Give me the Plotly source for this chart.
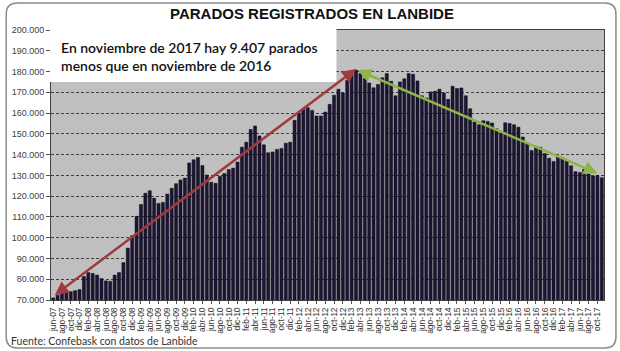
import plotly.graph_objects as go

# ---------------- data ----------------
month_names = ['ene', 'feb', 'mar', 'abr', 'may', 'jun', 'jul', 'ago', 'sep', 'oct', 'nov', 'dic']
start_year, start_month = 2007, 6   # jun-07
end_year, end_month = 2017, 11      # nov-17

# Registered unemployed (thousands), jun-07 .. nov-17
parados_miles = [
    71.0, 72.3, 75.5, 73.5, 74.0, 74.5, 75.0,                 # jun-07 .. dic-07
    81.3, 83.2, 82.8, 82.0, 80.3, 79.2, 79.0, 82.0, 83.2, 88.0, 95.0, 101.0,   # 2008
    110.3, 116.0, 121.4, 122.6, 119.0, 116.5, 117.0, 121.0, 123.8, 126.0, 127.8, 128.7,  # 2009
    136.0, 137.5, 138.6, 134.7, 130.2, 126.7, 126.2, 129.6, 130.9, 132.8, 133.5, 136.4,  # 2010
    143.6, 146.0, 152.1, 153.8, 149.0, 144.7, 140.9, 141.3, 142.5, 143.0, 145.5, 146.0,  # 2011
    156.5, 160.0, 161.8, 162.6, 161.3, 158.6, 158.6, 160.5, 164.2, 168.6, 171.5, 169.7,  # 2012
    175.8, 178.6, 180.7, 179.0, 176.6, 174.5, 172.2, 173.8, 177.0, 179.0, 175.3, 168.3,  # 2013
    175.0, 176.5, 179.0, 178.7, 175.5, 168.3, 167.3, 170.2, 170.5, 171.5, 169.7, 166.6,  # 2014
    172.9, 171.8, 172.1, 168.3, 162.1, 155.7, 154.4, 156.3, 156.0, 155.2, 152.5, 150.5,  # 2015
    155.3, 155.0, 154.4, 153.2, 148.5, 145.6, 142.0, 144.0, 143.5, 140.5, 138.3, 136.7,  # 2016
    138.8, 138.5, 137.0, 134.6, 131.8, 131.4, 132.9, 130.7, 129.7, 129.9, 128.9,        # 2017 (ene..nov)
]
parados = [v * 1000 for v in parados_miles]

y_ticks = [70000, 80000, 90000, 100000, 110000, 120000, 130000, 140000,
           150000, 160000, 170000, 180000, 190000, 200000]

title_text = "PARADOS REGISTRADOS EN LANBIDE"
note_text = "En noviembre de 2017 hay 9.407 parados<br>menos que en noviembre de 2016"
source_text = "Fuente: Confebask con datos de Lanbide"

# month labels
labels = []
y, m = start_year, start_month
while (y, m) <= (end_year, end_month):
    labels.append(f"{month_names[m - 1]}-{str(y)[2:]}")
    m += 1
    if m > 12:
        m = 1
        y += 1
tick_labels = labels[::2]

# ---------------- layout geometry ----------------
W, H = 620, 351
ML, MR, MT, MB = 48, 16, 30, 51
PW, PH = W - ML - MR, H - MT - MB


def px(xp):
    return (xp - ML) / PW


def py(yp):
    return (H - MB - yp) / PH


fig = go.Figure()
fig.add_trace(go.Bar(
    x=labels, y=parados,
    marker=dict(color='#1d1536', line=dict(color='#0a0812', width=0.5)),
    hoverinfo='x+y',
))

# Outer rounded border
r = 11
x0, y0, x1, y1 = 3, 3, 616, 348
path = (f"M {px(x0 + r)},{py(y0)} L {px(x1 - r)},{py(y0)} Q {px(x1)},{py(y0)} {px(x1)},{py(y0 + r)} "
        f"L {px(x1)},{py(y1 - r)} Q {px(x1)},{py(y1)} {px(x1 - r)},{py(y1)} "
        f"L {px(x0 + r)},{py(y1)} Q {px(x0)},{py(y1)} {px(x0)},{py(y1 - r)} "
        f"L {px(x0)},{py(y0 + r)} Q {px(x0)},{py(y0)} {px(x0 + r)},{py(y0)} Z")

shapes = [
    dict(type='path', path=path, xref='paper', yref='paper',
         line=dict(color='#8c8c8c', width=1.5), layer='below'),
    dict(type='rect', xref='paper', yref='paper',
         x0=px(47), x1=px(335), y0=py(82), y1=py(29),
         fillcolor='white', line=dict(width=0), layer='above'),
]

peak_idx = max(range(len(parados)), key=lambda i: parados[i])
annotations = [
    dict(text=f"<b>{title_text}</b>", xref='paper', yref='paper', x=px(310), y=py(13),
         xanchor='center', yanchor='middle', showarrow=False,
         font=dict(family='Liberation Sans', size=15, color='#111111')),
    dict(text=note_text, xref='paper', yref='paper', x=px(56), y=py(57),
         xanchor='left', yanchor='middle', align='left', showarrow=False,
         font=dict(family='Lato', size=14, color='#111111', weight=600)),
    dict(text=source_text, xref='paper', yref='paper', x=px(6), y=py(341),
         xanchor='left', yanchor='middle', showarrow=False,
         font=dict(family='Lato', size=10.5, color='#333333')),
    # red arrow: start to peak
    dict(x=labels[peak_idx], y=parados[peak_idx] + 500, ax=labels[0], ay=parados[0] + 800,
         xref='x', yref='y', axref='x', ayref='y', text='', showarrow=True,
         arrowhead=2, startarrowhead=2, arrowside='end+start', arrowsize=1.1, startarrowsize=1.1,
         arrowwidth=2.5, arrowcolor='#a03a3e', standoff=0, startstandoff=0),
    # green arrow: peak to end
    dict(x=labels[-2], y=parados[-2] + 1100, ax=labels[peak_idx], ay=parados[peak_idx] + 300,
         xref='x', yref='y', axref='x', ayref='y', text='', showarrow=True,
         arrowhead=2, startarrowhead=2, arrowside='end+start', arrowsize=1.1, startarrowsize=1.1,
         arrowwidth=2.5, arrowcolor='#8db446', standoff=0, startstandoff=0),
]

fig.update_layout(
    width=W, height=H,
    margin=dict(l=ML, r=MR, t=MT, b=MB),
    paper_bgcolor='white', plot_bgcolor='#c0c0c0',
    separators=',.',
    showlegend=False,
    bargap=0.3,
    shapes=shapes,
    annotations=annotations,
    font=dict(family='Liberation Sans', color='#333333'),
)
fig.update_xaxes(
    type='category', tickmode='array', tickvals=tick_labels, ticktext=tick_labels,
    tickangle=-90, tickfont=dict(family='Liberation Sans', size=8.5, color='#333333'),
    ticks='outside', ticklen=3, tickcolor='#555555',
    showline=True, linecolor='#404040', linewidth=1, mirror=True,
    showgrid=False, range=[-0.5, len(labels) - 0.5],
)
fig.update_yaxes(
    range=[70000, 200000], tickmode='array', tickvals=y_ticks, tickformat=',.0f',
    tickfont=dict(family='Liberation Sans', size=9, color='#404040'),
    ticks='outside', ticklen=4, tickcolor='#555555',
    showline=True, linecolor='#404040', linewidth=1, mirror=True,
    showgrid=True, gridcolor='#404040', gridwidth=1, griddash='3px,2px',
    zeroline=False,
)

fig.write_html("out.html")
